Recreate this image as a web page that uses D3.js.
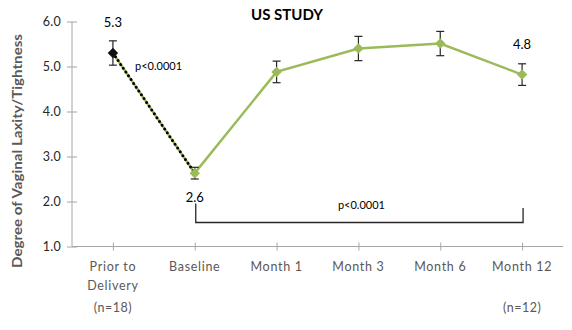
<!DOCTYPE html>
<html><head><meta charset="utf-8">
<script src="https://cdn.jsdelivr.net/npm/d3@7"></script>
<style>body{margin:0;background:#fff}svg{display:block}text{font-family:Lato,"Open Sans",sans-serif}</style>
</head><body><svg id="c" width="572" height="330"></svg>
<script>
const categories = ["Prior to|Delivery", "Baseline", "Month 1", "Month 3", "Month 6", "Month 12"];
const values = [5.3, 2.63, 4.88, 5.40, 5.51, 4.82];
const errors = [0.27, 0.13, 0.24, 0.27, 0.27, 0.24];
const yTicks = [1.0, 2.0, 3.0, 4.0, 5.0, 6.0];
const nLabels = [{cat: 0, text: "(n=18)"}, {cat: 5, text: "(n=12)"}];
const valueLabels = [{cat: 0, text: "5.3"}, {cat: 1, text: "2.6"}, {cat: 5, text: "4.8"}];
const title = "US STUDY";
const yTitle = "Degree of Vaginal Laxity/Tightness";
const pText = "p<0.0001";

const svg = d3.select("#c");
const green = "#9BBB59", gray = "#595959", dark = "#262626", axisCol = "#A6A6A6";
const L = 72, R = 563, T = 21.5, B = 246.5;
const x = d3.scaleBand().domain(d3.range(categories.length)).range([L, R]);
const cx = i => x(i) + x.bandwidth() / 2;
const y = d3.scaleLinear().domain([1, 6]).range([B, T]);

// y axis
const ya = svg.append("g").attr("transform", `translate(${L},0)`)
  .call(d3.axisLeft(y).tickValues(yTicks).tickFormat(d3.format(".1f")).tickSize(5).tickPadding(6));
ya.select(".domain").attr("stroke", axisCol).attr("d", `M0,${T}V${B}`);
ya.selectAll(".tick line").attr("stroke", axisCol).attr("x1", -5).attr("x2", 5);
ya.selectAll(".tick text").attr("fill", dark).attr("font-size", 12.5).attr("font-family", "Lato").attr("letter-spacing", 0.3);

// x axis
const xa = svg.append("g").attr("transform", `translate(0,${B})`)
  .call(d3.axisBottom(x).tickSize(0).tickFormat(""));
xa.select(".domain").attr("stroke", axisCol).attr("d", `M${L},0H${R}`);
xa.selectAll(".tick").append("line").attr("stroke", axisCol).attr("y1", -4).attr("y2", 4).attr("x1", 0.5).attr("x2", 0.5);
xa.selectAll(".tick").each(function(d) {
  const parts = categories[d].split("|");
  const t = d3.select(this).append("text").attr("fill", gray).attr("font-size", 12.5)
    .attr("text-anchor", "middle").attr("letter-spacing", 0.7);
  parts.forEach((p, k) => t.append("tspan").attr("x", 0).attr("y", 24 + k * 19).text(p));
});
nLabels.forEach(n => svg.append("text").attr("x", cx(n.cat)).attr("y", 312).attr("fill", gray)
  .attr("font-size", 12.5).attr("text-anchor", "middle").attr("letter-spacing", 0.5).text(n.text));

// y title
svg.append("text").attr("transform", `translate(22,${(T + B) / 2 + 17}) rotate(-90)`)
  .attr("text-anchor", "middle").attr("fill", gray).attr("font-weight", "bold").attr("font-size", 12.5)
  .attr("textLength", 234).attr("lengthAdjust", "spacingAndGlyphs").text(yTitle);

// title
svg.append("text").attr("x", 287).attr("y", 20).attr("text-anchor", "middle").attr("font-weight", "bold")
  .attr("font-size", 15).attr("fill", "#000").text(title);

// line
const pts = values.map((v, i) => [cx(i), y(v)]);
svg.append("path").attr("d", d3.line()(pts)).attr("fill", "none").attr("stroke", green).attr("stroke-width", 2.5);
// dotted black overlay on first segment
svg.append("path").attr("d", d3.line()(pts.slice(0, 2))).attr("fill", "none").attr("stroke", "#000")
  .attr("stroke-width", 3).attr("stroke-dasharray", "0,4.6").attr("stroke-linecap", "round");

// error bars
values.forEach((v, i) => {
  const g = svg.append("g").attr("stroke", dark).attr("stroke-width", 1.2);
  const X = cx(i);
  g.append("line").attr("x1", X).attr("x2", X).attr("y1", y(v + errors[i])).attr("y2", y(v - errors[i]));
  g.append("line").attr("x1", X - 4).attr("x2", X + 4).attr("y1", y(v + errors[i])).attr("y2", y(v + errors[i]));
  g.append("line").attr("x1", X - 4).attr("x2", X + 4).attr("y1", y(v - errors[i])).attr("y2", y(v - errors[i]));
});

// markers
svg.selectAll(".mk").data(values).join("path").attr("class", "mk")
  .attr("transform", (v, i) => `translate(${cx(i)},${y(v)})`)
  .attr("d", d3.symbol(d3.symbolDiamond2, 70))
  .attr("fill", (v, i) => i === 0 ? "#111" : green);

// value labels
valueLabels.forEach(l => {
  const off = l.cat === 1 ? 29 : -26;
  svg.append("text").attr("x", cx(l.cat)).attr("y", y(values[l.cat]) + off).attr("text-anchor", "middle")
    .attr("font-size", 13).attr("fill", "#000").text(l.text);
});

// p-value 1
svg.append("text").attr("x", 135).attr("y", 70).attr("font-size", 11).attr("fill", "#000").text(pText);

// bracket
const by = 222.5;
svg.append("path").attr("d", `M${cx(1) + 1},${by - 19}V${by}H${cx(5) + 1}V${by - 14.5}`)
  .attr("fill", "none").attr("stroke", dark).attr("stroke-width", 1.3);
svg.append("text").attr("x", (cx(1) + cx(5)) / 2 + 3).attr("y", 209).attr("text-anchor", "middle")
  .attr("font-size", 11).attr("fill", "#000").text(pText);
</script></body></html>
